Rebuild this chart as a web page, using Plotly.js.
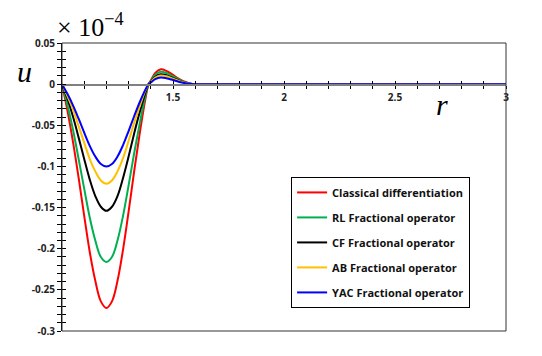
<!DOCTYPE html>
<html>
<head>
<meta charset="utf-8">
<script src="https://cdn.plot.ly/plotly-3.0.1.min.js"></script>
<style>
  html, body { margin: 0; padding: 0; background: #fff; }
  #plot { width: 542px; height: 356px; }
</style>
</head>
<body>
<div id="plot"></div>
<script>
// radius values
const r = [1, 1.025, 1.05, 1.075, 1.1, 1.125, 1.15, 1.175, 1.2, 1.225, 1.25, 1.275, 1.3, 1.325, 1.35, 1.375, 1.39,
           1.4, 1.42, 1.445, 1.47, 1.5, 1.525, 1.55, 1.575, 1.6, 1.8, 2, 2.2, 2.4, 2.6, 2.8, 3];

const classical = [0, -0.033, -0.071, -0.114, -0.160, -0.204, -0.239, -0.264, -0.272, -0.264, -0.239, -0.201, -0.155, -0.106, -0.060, -0.019, 0,
                   0.0045, 0.0135, 0.018, 0.0162, 0.0112, 0.0068, 0.0032, 0.0009, 0, 0, 0, 0, 0, 0, 0, 0];
const rlFrac = [0, -0.026, -0.056, -0.091, -0.127, -0.162, -0.190, -0.210, -0.216, -0.210, -0.190, -0.160, -0.123, -0.084, -0.048, -0.015, 0,
                0.0038, 0.0113, 0.015, 0.0135, 0.0093, 0.0057, 0.0027, 0.0008, 0, 0, 0, 0, 0, 0, 0, 0];
const cfFrac = [0, -0.018, -0.040, -0.065, -0.091, -0.116, -0.136, -0.149, -0.154, -0.149, -0.136, -0.114, -0.088, -0.060, -0.034, -0.011, 0,
                0.003, 0.009, 0.012, 0.0108, 0.0074, 0.0046, 0.0022, 0.0006, 0, 0, 0, 0, 0, 0, 0, 0];
const abFrac = [0, -0.015, -0.031, -0.051, -0.071, -0.091, -0.106, -0.117, -0.121, -0.117, -0.106, -0.090, -0.069, -0.047, -0.027, -0.008, 0,
                0.0026, 0.0079, 0.0105, 0.0095, 0.0065, 0.004, 0.0019, 0.0005, 0, 0, 0, 0, 0, 0, 0, 0];
const yacFrac = [0, -0.012, -0.026, -0.042, -0.059, -0.075, -0.088, -0.097, -0.100, -0.097, -0.088, -0.074, -0.057, -0.039, -0.022, -0.007, 0,
                 0.002, 0.006, 0.008, 0.0072, 0.005, 0.003, 0.0014, 0.0004, 0, 0, 0, 0, 0, 0, 0, 0];

const names = ['Classical differentiation', 'RL Fractional operator', 'CF Fractional operator',
               'AB Fractional operator', 'YAC Fractional operator'];
const colors = ['#ff0000', '#00b050', '#000000', '#ffc000', '#0000ff'];
const series = [classical, rlFrac, cfFrac, abFrac, yacFrac];

const xTickVals = [1.5, 2, 2.5, 3];
const xTickText = ['1.5', '2', '2.5', '3'];
const yTickVals = [0.05, 0, -0.05, -0.1, -0.15, -0.2, -0.25, -0.3];
const yTickText = ['0.05', '0', '-0.05', '-0.1', '-0.15', '-0.2', '-0.25', '-0.3'];

const traces = series.map((vals, i) => ({
    x: r,
    y: vals,
    mode: 'lines',
    name: names[i],
    legendgroup: 'g' + i,
    line: { color: colors[i], width: 2, shape: 'spline', smoothing: 1 }
}));

// empty trace so the overlay axes (inward ticks) get drawn
traces.push({ x: [null], y: [null], xaxis: 'x2', yaxis: 'y2', showlegend: false, hoverinfo: 'skip' });

const tickFont = { family: 'Open Sans, sans-serif', size: 10, color: '#222', weight: 'bold' };
const zeroPos = 0.3 / 0.35;

const layout = {
    width: 542,
    height: 356,
    margin: { l: 62, r: 36, t: 43, b: 25 },
    paper_bgcolor: '#fff',
    plot_bgcolor: '#fff',
    showlegend: true,
    xaxis: {
        range: [1, 3],
        anchor: 'free',
        position: zeroPos,
        showgrid: false,
        zeroline: false,
        showline: true,
        linecolor: '#808080',
        linewidth: 1.5,
        tickmode: 'array',
        tickvals: xTickVals,
        ticktext: xTickText,
        ticks: 'outside',
        ticklen: 3,
        tickcolor: '#000',
        minor: { dtick: 0.1, tick0: 1, ticks: 'outside', ticklen: 3, tickcolor: '#000', showgrid: false },
        tickfont: tickFont
    },
    yaxis: {
        range: [-0.3, 0.05],
        showgrid: false,
        zeroline: false,
        showline: true,
        linecolor: '#000',
        linewidth: 1,
        tickmode: 'array',
        tickvals: yTickVals,
        ticktext: yTickText,
        ticks: 'outside',
        ticklen: 4,
        tickcolor: '#000',
        minor: { dtick: 0.01, tick0: 0, ticks: 'outside', ticklen: 4, tickcolor: '#000', showgrid: false },
        tickfont: tickFont
    },
    xaxis2: {
        range: [1, 3],
        overlaying: 'x',
        anchor: 'free',
        position: zeroPos,
        showgrid: false,
        zeroline: false,
        showticklabels: false,
        tickmode: 'linear',
        tick0: 1,
        dtick: 0.1,
        ticks: 'inside',
        ticklen: 3,
        tickcolor: '#000'
    },
    yaxis2: {
        range: [-0.3, 0.05],
        overlaying: 'y',
        side: 'left',
        showgrid: false,
        zeroline: false,
        showticklabels: false,
        tickmode: 'linear',
        tick0: 0,
        dtick: 0.01,
        ticks: 'inside',
        ticklen: 4,
        tickcolor: '#000'
    },
    legend: {
        x: 0.516,
        y: 0.535,
        xanchor: 'left',
        yanchor: 'top',
        bordercolor: '#000',
        borderwidth: 1,
        bgcolor: '#fff',
        tracegroupgap: 6,
        itemwidth: 30,
        font: { family: 'Open Sans, sans-serif', size: 11, color: '#111', weight: 'bold' }
    },
    shapes: [
        { type: 'rect', xref: 'paper', yref: 'paper', x0: 0, x1: 1, y0: 0, y1: 1,
          line: { color: '#333', width: 1 } }
    ],
    annotations: [
        { text: 'u', xref: 'paper', yref: 'paper', x: -0.105, y: 0.965, showarrow: false,
          font: { family: 'Liberation Serif, serif', size: 30, style: 'italic', color: '#000' } },
        { text: 'r', xref: 'paper', yref: 'paper', x: 0.874, y: 0.85, showarrow: false,
          font: { family: 'Liberation Serif, serif', size: 30, style: 'italic', color: '#000' } },
        { text: '× 10<sup>−4</sup>', xref: 'paper', yref: 'paper', x: -0.015, y: 0.995, xanchor: 'left', yanchor: 'bottom',
          showarrow: false, font: { family: 'Liberation Serif, serif', size: 26, color: '#000' } }
    ]
};

Plotly.newPlot('plot', traces, layout, { displayModeBar: false, staticPlot: true });
</script>
</body>
</html>
